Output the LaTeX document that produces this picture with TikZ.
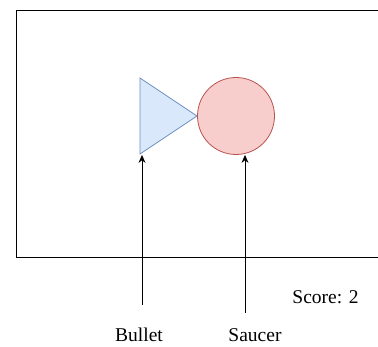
\documentclass[tikz,border=0pt]{standalone}
\usepackage{fontspec}
\setmainfont{Liberation Serif}
\usetikzlibrary{arrows.meta}
\definecolor{bulletfill}{HTML}{DAE8FC}
\definecolor{bulletline}{HTML}{6C8EBF}
\definecolor{saucerfill}{HTML}{F8CECC}
\definecolor{saucerline}{HTML}{B85450}
\tikzset{
  caption/.style={font=\fontsize{19.5}{22}\selectfont, inner sep=0pt},
  pointer/.style={-{Stealth[length=8pt,width=7pt]}, line width=0.9pt}
}

\begin{document}
\begin{tikzpicture}[x=1pt,y=-1pt]
        \useasboundingbox (0,0) rectangle (378,347);

        %create the screen
        \draw[line width=1pt] (378,11) -- (16,11) -- (16,258) -- (378,258);

        %setup bullet
        \coordinate (tl) at (140,78);
        \coordinate (bl) at (140,154);
        \coordinate (tip) at (197,116);
        \filldraw[fill=bulletfill, draw=bulletline, line width=0.8pt] (tl) -- (tip) -- (bl) -- cycle;

        %setup saucer
        \node[circle, fill=saucerfill, draw=saucerline, line width=0.8pt,
              minimum size=77, inner sep=0pt] (saucer) at (236,116) {};

        %labels
        \node[caption] (bulletlbl) at (139,335) {Bullet};
        \node[caption] (saucerlbl) at (255,335) {Saucer};
        \node[caption] (score) at (325.5,297) {Score: 2};

        %point at the objects
        \coordinate (btail) at (142,305);
        \coordinate (stail) at (245,313);
        \draw[pointer] (btail) -- (btail |- saucer.south);
        \draw[pointer] (stail) -- (saucer.south -| stail);
      \end{tikzpicture}
\end{document}
